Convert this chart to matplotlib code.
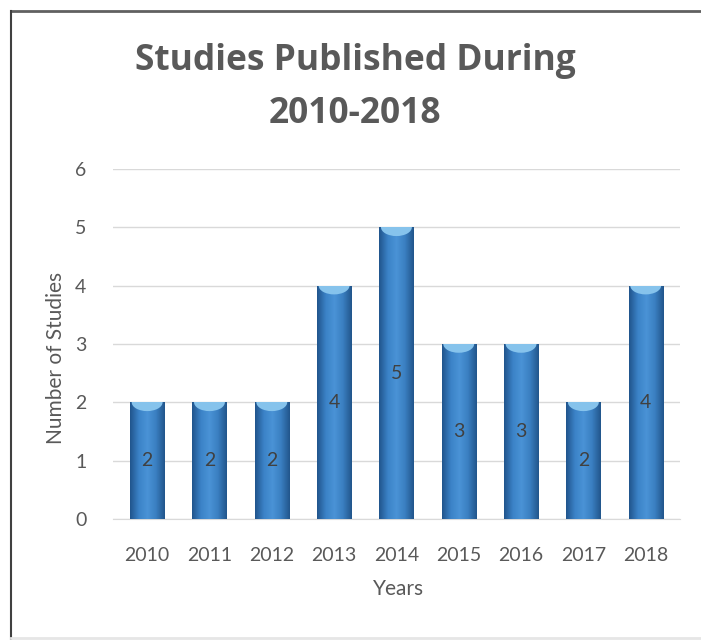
import numpy as np
import matplotlib
matplotlib.use("Agg")
import matplotlib.pyplot as plt
from matplotlib.patches import Ellipse
from matplotlib.colors import LinearSegmentedColormap

years = ["2010", "2011", "2012", "2013", "2014", "2015", "2016", "2017", "2018"]
studies = [2, 2, 2, 4, 5, 3, 3, 2, 4]
yticks = [0, 1, 2, 3, 4, 5, 6]

plt.rcParams['font.family'] = ['Lato', 'DejaVu Sans']
grey = '#595959'

fig = plt.figure(figsize=(7.01, 6.4), dpi=100)
ax = fig.add_axes([0.161, 0.189, 0.809, 0.547])

x = np.arange(len(years))
bars = ax.bar(x, studies, width=0.55, color='#3a7fc1', zorder=2)

# cylinder-ish shading: dark edges, light middle
cmap = LinearSegmentedColormap.from_list('cyl', ['#21558d', '#3b82c7', '#4a93d6', '#3a7fc1', '#22568c'])
grad = np.linspace(0, 1, 64).reshape(1, -1)
for b in bars:
    x0, w, h = b.get_x(), b.get_width(), b.get_height()
    im = ax.imshow(grad, cmap=cmap, aspect='auto', extent=[x0, x0 + w, 0, h], zorder=3)
    im.set_clip_path(b)
    cap = Ellipse((x0 + w / 2, h), w * 0.9, 0.3, facecolor='#86c3ec', edgecolor='none', zorder=4)
    ax.add_patch(cap)
    cap.set_clip_path(b)
    ax.text(x0 + w / 2, h / 2, str(int(h)), ha='center', va='center', fontsize=14, color='#404040', zorder=5)

ax.set_xlim(-0.55, 8.55)
ax.set_ylim(0, 6)
ax.set_yticks(yticks)
ax.set_xticks(x)
ax.set_xticklabels(years)
ax.tick_params(length=0, labelsize=14, colors=grey)
ax.tick_params(axis='x', pad=20)
ax.tick_params(axis='y', pad=19)
ax.grid(axis='y', color='#d9d9d9', linewidth=1, zorder=0)
ax.set_axisbelow(True)
for s in ['top', 'right', 'left']:
    ax.spines[s].set_visible(False)
ax.spines['bottom'].set_color('#d9d9d9')

ax.set_xlabel('Years', fontsize=15, color=grey)
ax.xaxis.set_label_coords(0.503, -0.17)
ax.set_ylabel('Number of Studies', fontsize=15, color=grey)
ax.yaxis.set_label_coords(-0.082, 0.46)

fig.text(0.507, 0.905, 'Studies Published During', ha='center', va='center',
         fontsize=25.5, fontweight='bold', color=grey, family='Open Sans')
fig.text(0.507, 0.822, '2010-2018', ha='center', va='center',
         fontsize=25.5, fontweight='bold', color=grey, family='Open Sans')

# outer frame: dark top and left edge, faint bottom
fig.add_artist(plt.Line2D([0.0157, 1.0], [0.983, 0.983], color='#606060', linewidth=2, transform=fig.transFigure))
fig.add_artist(plt.Line2D([0.0157, 0.0157], [0.0, 0.983], color='#404040', linewidth=1.5, transform=fig.transFigure))
fig.add_artist(plt.Line2D([0.0157, 1.0], [0.003, 0.003], color='#e6e6e6', linewidth=2, transform=fig.transFigure))

fig.savefig('out.png', dpi=100)
